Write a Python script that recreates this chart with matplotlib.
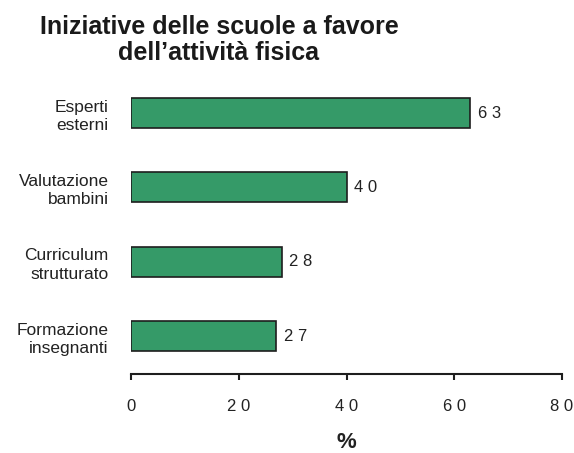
import matplotlib.pyplot as plt
from matplotlib.ticker import FuncFormatter

plt.rcParams['font.family'] = ['Liberation Sans', 'DejaVu Sans']

# data
categories = ['Esperti\nesterni', 'Valutazione\nbambini',
              'Curriculum\nstrutturato', 'Formazione\ninsegnanti']
values = [63, 40, 28, 27]
x_ticks = [0, 20, 40, 60, 80]

text_col = '#222222'
bar_col = '#359a68'

def spaced(v):
    # digits drawn with wide spacing, as in the original
    return ' '.join(str(int(v)))

fig = plt.figure(figsize=(5.74, 4.53), dpi=100)
ax = fig.add_axes([131 / 574, 1 - 374 / 453, 431 / 574, 294 / 453])

pos = list(range(len(categories)))
ax.barh(pos, values, height=0.40, color=bar_col, edgecolor='#1e1e1e', linewidth=1.2)
ax.set_ylim(3.51, -0.444)
ax.set_xlim(0, 80)

for p, v in zip(pos, values):
    ax.text(v + 1.4, p, spaced(v), va='center', ha='left', fontsize=12, color=text_col)

ax.set_yticks(pos)
ax.set_yticklabels(categories, fontsize=12.5, color=text_col, linespacing=1.3)
ax.tick_params(axis='y', length=0, pad=16)

ax.set_xticks(x_ticks)
ax.xaxis.set_major_formatter(FuncFormatter(lambda v, _: spaced(v)))
ax.tick_params(axis='x', length=4, width=1.5, color='#1e1e1e', pad=14,
               labelsize=12, labelcolor=text_col)

for s in ['top', 'right', 'left']:
    ax.spines[s].set_visible(False)
ax.spines['bottom'].set_linewidth(1.5)
ax.spines['bottom'].set_color('#1e1e1e')

ax.set_xlabel('%', fontsize=16, fontweight='bold', color=text_col, labelpad=13)

fig.text(219 / 574, 1 - 40 / 453, "Iniziative delle scuole a favore\ndell\u2019attivit\u00e0 fisica",
         ha='center', va='center', fontsize=18, fontweight='bold', color='#1a1a1a',
         linespacing=1.15)

fig.savefig('out.png', dpi=100)
